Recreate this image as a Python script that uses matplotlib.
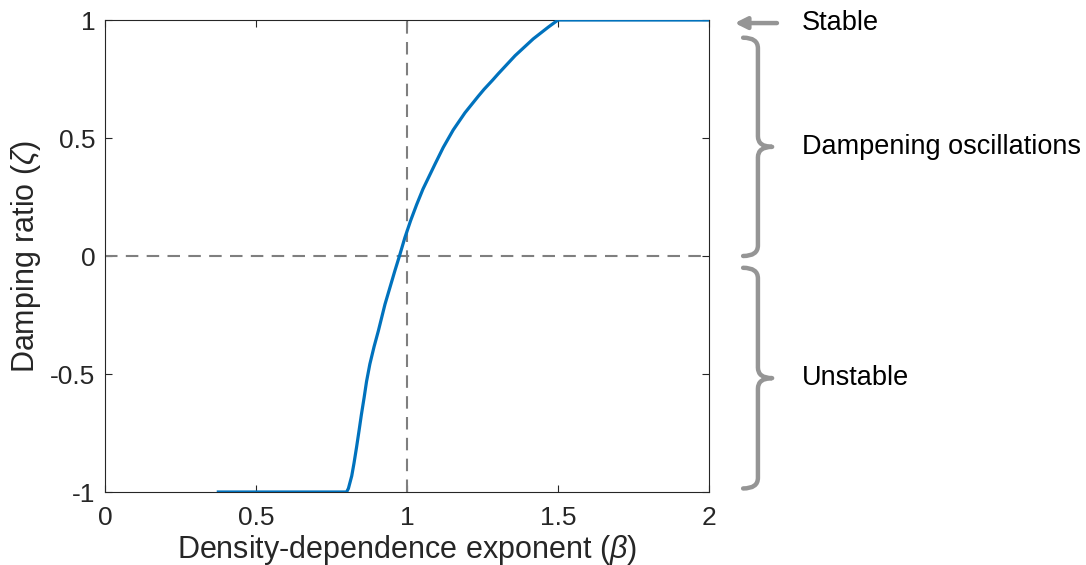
import matplotlib
matplotlib.use("Agg")
import matplotlib.pyplot as plt
from matplotlib.path import Path
from matplotlib.patches import PathPatch

# ---- data ----
beta = [0.37, 0.80, 0.806, 0.817, 0.8245, 0.833, 0.841, 0.849, 0.858, 0.866,
        0.877, 0.891, 0.905, 0.927, 0.960, 0.975, 0.993, 1.012, 1.032, 1.053,
        1.093, 1.120, 1.153, 1.192, 1.236, 1.255, 1.284, 1.302, 1.358, 1.418,
        1.468, 1.50, 2.00]
zeta = [-1.0, -1.0, -0.985, -0.932, -0.878, -0.810, -0.742, -0.672, -0.600, -0.532,
        -0.458, -0.384, -0.318, -0.205, -0.062, 0.0, 0.078, 0.150, 0.218, 0.284,
        0.390, 0.460, 0.534, 0.607, 0.677, 0.706, 0.746, 0.772, 0.849, 0.920,
        0.970, 1.0, 1.0]

x_ticks = [0, 0.5, 1, 1.5, 2]
x_tick_labels = ["0", "0.5", "1", "1.5", "2"]
y_ticks = [-1, -0.5, 0, 0.5, 1]
y_tick_labels = ["-1", "-0.5", "0", "0.5", "1"]

region_labels = ["Stable", "Dampening oscillations", "Unstable"]
brace_ranges = [(0.925, 0.0), (-0.05, -0.985)]   # (top, bottom) in zeta units
stable_level = 0.987

plt.rcParams["font.family"] = ["Liberation Sans", "DejaVu Sans"]
plt.rcParams["mathtext.fontset"] = "custom"
plt.rcParams["mathtext.it"] = "Liberation Sans:italic"
plt.rcParams["mathtext.rm"] = "Liberation Sans"

fig = plt.figure(figsize=(10.86, 5.65), dpi=100)
ax = fig.add_axes([105 / 1086, 1 - 492 / 565, 604 / 1086, 472 / 565])

axis_col = "#262626"
ax.plot(beta, zeta, color="#0072BD", lw=2.3, solid_joinstyle="round",
        solid_capstyle="butt", zorder=3)
ax.axhline(0, color="#7f7f7f", lw=1.5, ls=(0, (6, 4)), zorder=2)
ax.axvline(1, color="#7f7f7f", lw=1.5, ls=(0, (6, 4)), zorder=2)

ax.set_xlim(0, 2)
ax.set_ylim(-1, 1)
ax.set_xticks(x_ticks)
ax.set_xticklabels(x_tick_labels)
ax.set_yticks(y_ticks)
ax.set_yticklabels(y_tick_labels)
ax.tick_params(direction="in", length=5, width=0.8, colors=axis_col,
               labelsize=19, top=True, right=True, pad=7)
ax.tick_params(axis="x", pad=10)
for s in ax.spines.values():
    s.set_color(axis_col)
    s.set_linewidth(0.8)

ax.set_xlabel(r"Density-dependence exponent ($\beta$)", fontsize=22,
              color=axis_col, labelpad=2)
ax.set_ylabel(r"Damping ratio ($\zeta$)", fontsize=22, color=axis_col,
              labelpad=5)

# ---- annotations (right of the axes) ----
ann_col = "#959595"
x_end, x_body, x_tip = 2.113, 2.162, 2.209
r = 0.045


def brace(top, bot):
    mid = (top + bot) / 2
    verts = [(x_end, top), (x_body, top), (x_body, top - r),
             (x_body, mid + r), (x_body, mid), (x_tip, mid),
             (x_body, mid), (x_body, mid - r),
             (x_body, bot + r), (x_body, bot), (x_end, bot)]
    codes = [Path.MOVETO, Path.CURVE3, Path.CURVE3,
             Path.LINETO, Path.CURVE3, Path.CURVE3,
             Path.CURVE3, Path.CURVE3,
             Path.LINETO, Path.CURVE3, Path.CURVE3]
    p = PathPatch(Path(verts, codes), fill=False, ec=ann_col, lw=3.2,
                  capstyle="round", joinstyle="round", clip_on=False,
                  transform=ax.transData)
    ax.add_patch(p)
    return mid


mids = [brace(t, b) for t, b in brace_ranges]

ax.annotate("", xy=(2.085, stable_level), xytext=(2.225, stable_level),
            xycoords="data", textcoords="data", annotation_clip=False,
            arrowprops=dict(arrowstyle="-|>,head_length=0.7,head_width=0.35",
                            color=ann_col, lw=3.2, shrinkA=0, shrinkB=0))

text_x = 2.308
ax.text(text_x, stable_level, region_labels[0], fontsize=19.5, va="center",
        ha="left", color="black", clip_on=False)
for lab, m in zip(region_labels[1:], mids):
    ax.text(text_x, m, lab, fontsize=19.5, va="center", ha="left",
            color="black", clip_on=False)

fig.savefig("out.png", dpi=100)
